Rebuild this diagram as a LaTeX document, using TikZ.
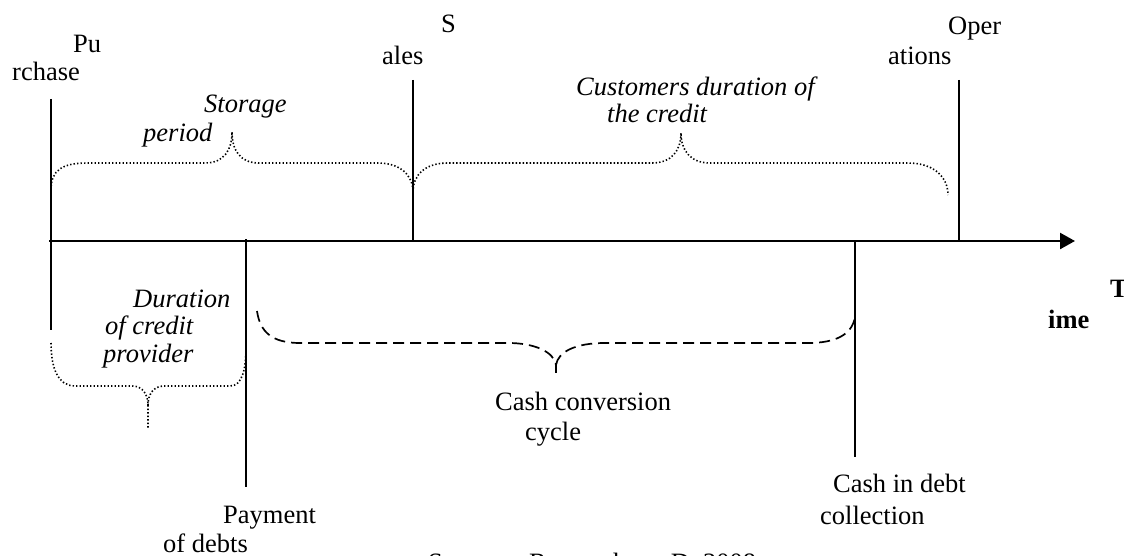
\documentclass[tikz,border=0pt]{standalone}
\usepackage{fontspec}
\setmainfont{Liberation Serif}
\usetikzlibrary{arrows.meta}
\tikzset{
  lbl/.style={inner sep=0pt, anchor=base west, font=\fontsize{26.5}{30}\selectfont},
  ilbl/.style={lbl, font=\fontsize{26.5}{30}\selectfont\itshape},
  blbl/.style={lbl, font=\fontsize{26.5}{30}\selectfont\bfseries},
  tick/.style={line width=2pt},
  axisline/.style={line width=2.4pt, -{Triangle[length=15pt,width=16pt]}},
  dotbrace/.style={line width=1.6pt, dash pattern=on 1.4pt off 2.1pt},
  dashbrace/.style={line width=1.7pt, dash pattern=on 11pt off 6pt},
}
\begin{document}
\begin{tikzpicture}[x=1pt,y=-1pt]
\clip (0,0) rectangle (1124,556);
\fill[white] (0,0) rectangle (1124,556);

% coordinates
\coordinate (o) at (49,241);
\coordinate (tend) at (1075,241);
\coordinate (purTop) at (51,99);
\coordinate (purBot) at (51,330);
\coordinate (salTop) at (413,80);
\coordinate (salBot) at (413,241);
\coordinate (opTop) at (959,80);
\coordinate (opBot) at (959,241);
\coordinate (payTop) at (246,239);
\coordinate (payBot) at (246,487);
\coordinate (cashTop) at (855,241);
\coordinate (cashBot) at (855,457);

% axis and ticks
\draw[axisline] (o) -- (tend);
\draw[tick] (purTop) -- (purBot);
\draw[tick] (salTop) -- (salBot);
\draw[tick] (opTop) -- (opBot);
\draw[tick] (payTop) -- (payBot);
\draw[tick] (cashTop) -- (cashBot);

% storage period brace
\draw[dotbrace] (51,190) .. controls (51,170) and (62,163) .. (88,163)
  -- (205,163) .. controls (224,163) and (232,150) .. (232,132)
  .. controls (232,150) and (240,163) .. (259,163)
  -- (378,163) .. controls (400,163) and (413,175) .. (413,192);
% customers credit brace
\draw[dotbrace] (413,192) .. controls (413,175) and (425,163) .. (448,163)
  -- (652,163) .. controls (672,163) and (681,150) .. (681,133)
  .. controls (681,150) and (690,163) .. (710,163)
  -- (908,163) .. controls (935,163) and (948,178) .. (948,195);
% credit provider brace
\draw[dotbrace] (51,343) .. controls (51,368) and (58,386) .. (75,386)
  -- (132,386) .. controls (143,386) and (148,395) .. (148,405) -- (148,429);
\draw[dotbrace] (148,405) .. controls (148,395) and (153,386) .. (164,386)
  -- (230,386) .. controls (242,386) and (246,370) .. (246,347);
% cash conversion cycle brace
\draw[dashbrace] (257,311) .. controls (260,332) and (272,343) .. (300,343)
  -- (508,343) .. controls (535,343) and (554,352) .. (556,365);
\draw[dashbrace] (556,365) .. controls (558,352) and (575,343) .. (605,343)
  -- (808,343) .. controls (835,343) and (852,335) .. (855,317);
\draw[line width=1.7pt] (556,363) -- (556,373);

% labels
\node[lbl] (pu) at (73,53) {Pu};
\node[lbl] (rchase) at (12,81) {rchase};
\node[lbl] (s) at (441,33) {S};
\node[lbl] (ales) at (382,65) {ales};
\node[lbl] (oper) at (948,35) {Oper};
\node[lbl] (ations) at (888,65) {ations};
\node[ilbl] (storage) at (204,113) {Storage};
\node[ilbl] (period) at (143,142) {period};
\node[ilbl] (cust1) at (576,96) {Customers duration of};
\node[ilbl] (cust2) at (607,123) {the credit};
\node[ilbl] (dur1) at (133,307) {Duration};
\node[ilbl] (dur2) at (105,334) {of credit};
\node[ilbl] (dur3) at (103,362) {provider};
\node[lbl] (ccc1) at (495,410) {Cash conversion};
\node[lbl] (ccc2) at (525,440) {cycle};
\node[lbl] (pay1) at (223,523) {Payment};
\node[lbl] (pay2) at (163,552) {of debts};
\node[lbl] (cash1) at (833,492) {Cash in debt};
\node[lbl] (cash2) at (820,524) {collection};
\node[blbl] (t) at (1110,297) {T};
\node[blbl] (ime) at (1048,328) {ime};
\node[lbl] (src) at (428,571) {Source:\hspace{20pt}Researcher\hspace{24pt}D. 2008};
\end{tikzpicture}
\end{document}
